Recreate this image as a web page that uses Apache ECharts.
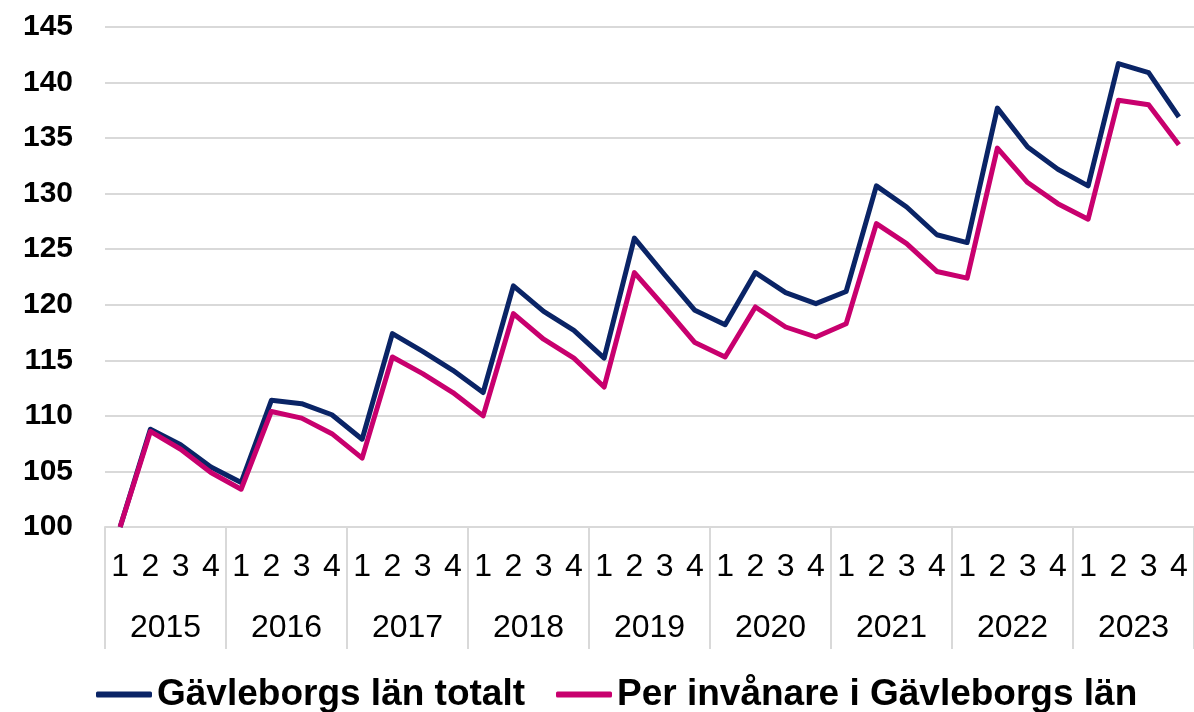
<!DOCTYPE html>
<html>
<head>
<meta charset="utf-8">
<script src="https://cdn.jsdelivr.net/npm/echarts@6.0.0/dist/echarts.min.js"></script>
<style>
  html, body { margin: 0; padding: 0; background: #fff; }
  #chart { width: 1194px; height: 712px; }
</style>
</head>
<body>
<div id="chart"></div>
<script>
const years = ['2015', '2016', '2017', '2018', '2019', '2020', '2021', '2022', '2023']
const quarters = years.flatMap(() => ['1', '2', '3', '4'])

const totalt = [
  100, 108.8, 107.4, 105.4, 104.0, 111.4, 111.1, 110.1, 107.9, 117.4, 115.8, 114.1,
  112.1, 121.7, 119.4, 117.7, 115.2, 126.0, 122.7, 119.5, 118.2, 122.9, 121.1, 120.1,
  121.2, 130.7, 128.8, 126.3, 125.6, 137.7, 134.2, 132.2, 130.7, 141.7, 140.9, 136.9
]
const perInvanare = [
  100, 108.6, 107.0, 104.9, 103.4, 110.4, 109.8, 108.4, 106.2, 115.3, 113.8, 112.1,
  110.0, 119.2, 116.9, 115.2, 112.6, 122.9, 119.8, 116.6, 115.3, 119.8, 118.0, 117.1,
  118.3, 127.3, 125.5, 123.0, 122.4, 134.1, 131.0, 129.1, 127.7, 138.4, 138.0, 134.4
]

const font = 'Liberation Sans'
const gridColor = '#d9d9d9'

const chart = echarts.init(document.getElementById('chart'))
chart.setOption({
  animation: false,
  grid: { left: 105, right: -4, top: 27, bottom: 185 },
  xAxis: [
    {
      type: 'category', data: quarters, boundaryGap: true,
      axisLine: { lineStyle: { color: gridColor, width: 2 } },
      axisTick: { show: false },
      axisLabel: { interval: 0, margin: 24, color: '#000', fontSize: 32, fontFamily: font }
    },
    {
      type: 'category', data: years, boundaryGap: true, position: 'bottom',
      axisLine: { show: false },
      axisTick: { show: true, interval: 0, length: 122, lineStyle: { color: gridColor, width: 2 } },
      axisLabel: { interval: 0, margin: 85, color: '#000', fontSize: 32, fontFamily: font }
    }
  ],
  yAxis: {
    type: 'value', min: 100, max: 145, interval: 5,
    axisLine: { show: false }, axisTick: { show: false },
    splitLine: { lineStyle: { color: gridColor, width: 2 } },
    axisLabel: { margin: 32, color: '#000', fontSize: 30, fontWeight: 'bold', fontFamily: font }
  },
  legend: {
    top: 671, left: 91,
    icon: 'roundRect', itemWidth: 56, itemHeight: 6, itemGap: 31,
    textStyle: { color: '#000', fontSize: 37, fontWeight: 'bold', fontFamily: font }
  },
  series: [
    {
      name: 'Gävleborgs län totalt', type: 'line', data: totalt,
      symbol: 'none', color: '#0a2466',
      lineStyle: { width: 5, color: '#0a2466', join: 'round' }
    },
    {
      name: 'Per invånare i Gävleborgs län', type: 'line', data: perInvanare,
      symbol: 'none', color: '#c8006e',
      lineStyle: { width: 5, color: '#c8006e', join: 'round' }
    }
  ]
})
</script>
</body>
</html>
